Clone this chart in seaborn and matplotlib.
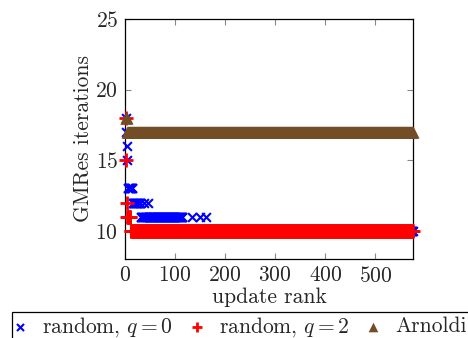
import numpy as np
import pandas as pd
import matplotlib
matplotlib.use("Agg")
import matplotlib.pyplot as plt
from matplotlib.patches import Rectangle
import seaborn as sns

# GMRes iteration counts per update rank, stored as run-length encoded values
q0_values = [18, 17, 16, 15, 13, 12, 11, 12, 11, 12, 11, 10, 11, 10, 11, 10, 11, 10]
q0_counts = [1, 1, 1, 1, 10, 16, 7, 1, 6, 1, 69, 19, 1, 14, 1, 12, 1, 413]
q2_values = [18, 15, 12, 11, 10]
q2_counts = [1, 1, 1, 7, 565]
arnoldi_values = [18, 17]
arnoldi_counts = [3, 572]

labels = ["random, $q=0$", "random, $q=2$", "Arnoldi"]
x_ticks = [0, 100, 200, 300, 400, 500]
y_ticks = [10, 15, 20, 25]


def expand(values, counts):
    iters = np.repeat(values, counts)
    return pd.DataFrame({"rank": np.arange(1, len(iters) + 1), "iters": iters})


sns.set_theme(style="white")
plt.rcParams["font.family"] = ["cmr10"]
plt.rcParams["mathtext.fontset"] = "cm"
plt.rcParams["axes.formatter.use_mathtext"] = True
plt.rcParams["axes.unicode_minus"] = False

FS = 15.5
W, H = 468, 338
fig = plt.figure(figsize=(W / 100, H / 100), dpi=100)
ax = fig.add_axes([125 / W, 1 - 259 / H, 288 / W, 240 / H])

blue = (0, 0, 1)
red = (1, 0, 0)
brown = (0.45, 0.3, 0.15)

d0 = expand(q0_values, q0_counts)
d2 = expand(q2_values, q2_counts)
da = expand(arnoldi_values, arnoldi_counts)

sns.scatterplot(data=d0, x="rank", y="iters", marker="x", color=blue, s=40,
                linewidth=1.5, ax=ax, label=labels[0], zorder=3, clip_on=False)
sns.scatterplot(data=d2, x="rank", y="iters", marker="+", color=red, s=90,
                linewidth=2.0, ax=ax, label=labels[1], zorder=4, clip_on=False)
sns.scatterplot(data=da, x="rank", y="iters", marker="^", color=brown, s=75,
                linewidth=0, ax=ax, label=labels[2], zorder=5, clip_on=False)

ax.set_xlim(0, 575)
ax.set_ylim(8, 25)
ax.set_xticks(x_ticks)
ax.set_yticks(y_ticks)
ax.tick_params(axis="both", which="both", direction="in", length=4, width=0.8,
               color="#888888", labelsize=FS, top=True, right=True,
               bottom=True, left=True, pad=5)
for sp in ax.spines.values():
    sp.set_color("black")
    sp.set_linewidth(0.9)
ax.set_xlabel("update rank", fontsize=FS, labelpad=1)
ax.set_ylabel("GMRes iterations", fontsize=FS, labelpad=2)

handles, lbls = ax.get_legend_handles_labels()
ax.get_legend().remove()
leg = fig.legend(handles, lbls, loc="center left", ncol=3,
                 bbox_to_anchor=(14.6 / W, 1 - 327 / H),
                 frameon=False, fontsize=FS,
                 handlelength=0.5, handletextpad=0.76, columnspacing=0.88,
                 borderpad=0, borderaxespad=0, markerscale=0.8)

# legend frame running past the right and bottom edges of the canvas
fig.patches.append(Rectangle((11.7 / W, 1 - 345 / H), (480 - 11.7) / W,
                             (345 - 311.7) / H, transform=fig.transFigure,
                             fill=False, edgecolor="black", linewidth=0.9,
                             zorder=0))

fig.savefig("out.png", dpi=100)
